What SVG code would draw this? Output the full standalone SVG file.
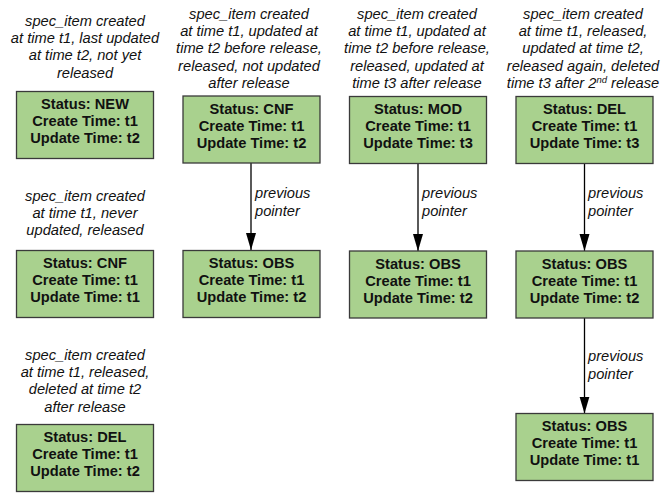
<svg xmlns="http://www.w3.org/2000/svg" width="670" height="497" viewBox="0 0 670 497">
<style>
.box{fill:#a9d18e;stroke:#3a3a3a;stroke-width:1.3}
.bt{font-family:"Liberation Sans",Arial,sans-serif;font-size:14.67px;font-weight:bold;fill:#111;text-anchor:middle}
.cap{font-family:"Liberation Sans",Arial,sans-serif;font-size:14.67px;font-style:italic;fill:#111;text-anchor:middle}
.lbl{font-family:"Liberation Sans",Arial,sans-serif;font-size:14.67px;font-style:italic;fill:#111}
.con{stroke:#000;stroke-width:1.3;fill:none}
</style>
<defs>
<marker id="ah" markerUnits="userSpaceOnUse" markerWidth="12" markerHeight="18" viewBox="0 0 12 18" refX="6" refY="17" orient="auto-start-reverse">
<path d="M1,0 L11,0 L6,17 Z" fill="#000" transform="rotate(-90 6 8.5) translate(0 0)"/>
</marker>
<marker id="arr" markerUnits="userSpaceOnUse" markerWidth="18" markerHeight="12" viewBox="0 0 18 12" refX="17" refY="6" orient="auto">
<path d="M0,1 L17,6 L0,11 Z" fill="#000"/>
</marker>
</defs>

<g id="captions">
<text class="cap"><tspan x="85" y="26">spec_item created</tspan><tspan x="85" y="43.2">at time t1, last updated</tspan><tspan x="85" y="60.4">at time t2, not yet</tspan><tspan x="85" y="77.6">released</tspan></text>
<text class="cap"><tspan x="249" y="19">spec_item created</tspan><tspan x="249" y="36.2">at time t1, updated at</tspan><tspan x="249" y="53.4">time t2 before release,</tspan><tspan x="249" y="70.6">released, not updated</tspan><tspan x="249" y="87.8">after release</tspan></text>
<text class="cap"><tspan x="417" y="19">spec_item created</tspan><tspan x="417" y="36.2">at time t1, updated at</tspan><tspan x="417" y="53.4">time t2 before release,</tspan><tspan x="417" y="70.6">released, updated at</tspan><tspan x="417" y="87.8">time t3 after release</tspan></text>
<text class="cap"><tspan x="583" y="19">spec_item created</tspan><tspan x="583" y="36.2">at time t1, released,</tspan><tspan x="583" y="53.4">updated at time t2,</tspan><tspan x="583" y="70.6">released again, deleted</tspan><tspan x="583" y="87.8">time t3 after 2<tspan dy="-5" font-size="9.5px">nd</tspan><tspan dy="5"> release</tspan></tspan></text>
<text class="cap"><tspan x="85" y="201">spec_item created</tspan><tspan x="85" y="218.2">at time t1, never</tspan><tspan x="85" y="235.4">updated, released</tspan></text>
<text class="cap"><tspan x="85" y="360">spec_item created</tspan><tspan x="85" y="377.2">at time t1, released,</tspan><tspan x="85" y="394.4">deleted at time t2</tspan><tspan x="85" y="411.6">after release</tspan></text>
</g>

<g id="connectors">
<line class="con" x1="251" y1="163" x2="251" y2="250" marker-end="url(#arr)"/>
<line class="con" x1="418" y1="163.5" x2="418" y2="251" marker-end="url(#arr)"/>
<line class="con" x1="584.5" y1="163.5" x2="584.5" y2="251" marker-end="url(#arr)"/>
<line class="con" x1="584.5" y1="318" x2="584.5" y2="413.5" marker-end="url(#arr)"/>
<text class="lbl"><tspan x="255" y="198">previous</tspan><tspan x="255" y="216">pointer</tspan></text>
<text class="lbl"><tspan x="422" y="198">previous</tspan><tspan x="422" y="216">pointer</tspan></text>
<text class="lbl"><tspan x="588" y="198">previous</tspan><tspan x="588" y="216">pointer</tspan></text>
<text class="lbl"><tspan x="588" y="361">previous</tspan><tspan x="588" y="378.5">pointer</tspan></text>
</g>

<g id="n-new">
<rect class="box" x="16.5" y="91.5" width="137" height="67"/>
<text class="bt"><tspan x="85" y="109">Status: NEW</tspan><tspan x="85" y="126">Create Time: t1</tspan><tspan x="85" y="143">Update Time: t2</tspan></text>
</g>
<g id="n-cnf1">
<rect class="box" x="16.5" y="250.5" width="137" height="67"/>
<text class="bt"><tspan x="85" y="268">Status: CNF</tspan><tspan x="85" y="285">Create Time: t1</tspan><tspan x="85" y="302">Update Time: t1</tspan></text>
</g>
<g id="n-del1">
<rect class="box" x="16.5" y="424.5" width="137" height="67"/>
<text class="bt"><tspan x="85" y="442">Status: DEL</tspan><tspan x="85" y="459">Create Time: t1</tspan><tspan x="85" y="476">Update Time: t2</tspan></text>
</g>
<g id="n-cnf2">
<rect class="box" x="183" y="96" width="137" height="67"/>
<text class="bt"><tspan x="251.5" y="113.5">Status: CNF</tspan><tspan x="251.5" y="130.5">Create Time: t1</tspan><tspan x="251.5" y="147.5">Update Time: t2</tspan></text>
</g>
<g id="n-obs2">
<rect class="box" x="183" y="250.5" width="137" height="67"/>
<text class="bt"><tspan x="251.5" y="268">Status: OBS</tspan><tspan x="251.5" y="285">Create Time: t1</tspan><tspan x="251.5" y="302">Update Time: t2</tspan></text>
</g>
<g id="n-mod">
<rect class="box" x="349.5" y="96.5" width="137" height="67"/>
<text class="bt"><tspan x="418" y="114">Status: MOD</tspan><tspan x="418" y="131">Create Time: t1</tspan><tspan x="418" y="148">Update Time: t3</tspan></text>
</g>
<g id="n-obs3">
<rect class="box" x="349.5" y="251" width="137" height="67"/>
<text class="bt"><tspan x="418" y="268.5">Status: OBS</tspan><tspan x="418" y="285.5">Create Time: t1</tspan><tspan x="418" y="302.5">Update Time: t2</tspan></text>
</g>
<g id="n-del4">
<rect class="box" x="516" y="96.5" width="137" height="67"/>
<text class="bt"><tspan x="584.5" y="114">Status: DEL</tspan><tspan x="584.5" y="131">Create Time: t1</tspan><tspan x="584.5" y="148">Update Time: t3</tspan></text>
</g>
<g id="n-obs4a">
<rect class="box" x="516" y="251" width="137" height="67"/>
<text class="bt"><tspan x="584.5" y="268.5">Status: OBS</tspan><tspan x="584.5" y="285.5">Create Time: t1</tspan><tspan x="584.5" y="302.5">Update Time: t2</tspan></text>
</g>
<g id="n-obs4b">
<rect class="box" x="516" y="413.5" width="137" height="67"/>
<text class="bt"><tspan x="584.5" y="431">Status: OBS</tspan><tspan x="584.5" y="448">Create Time: t1</tspan><tspan x="584.5" y="465">Update Time: t1</tspan></text>
</g>
</svg>
